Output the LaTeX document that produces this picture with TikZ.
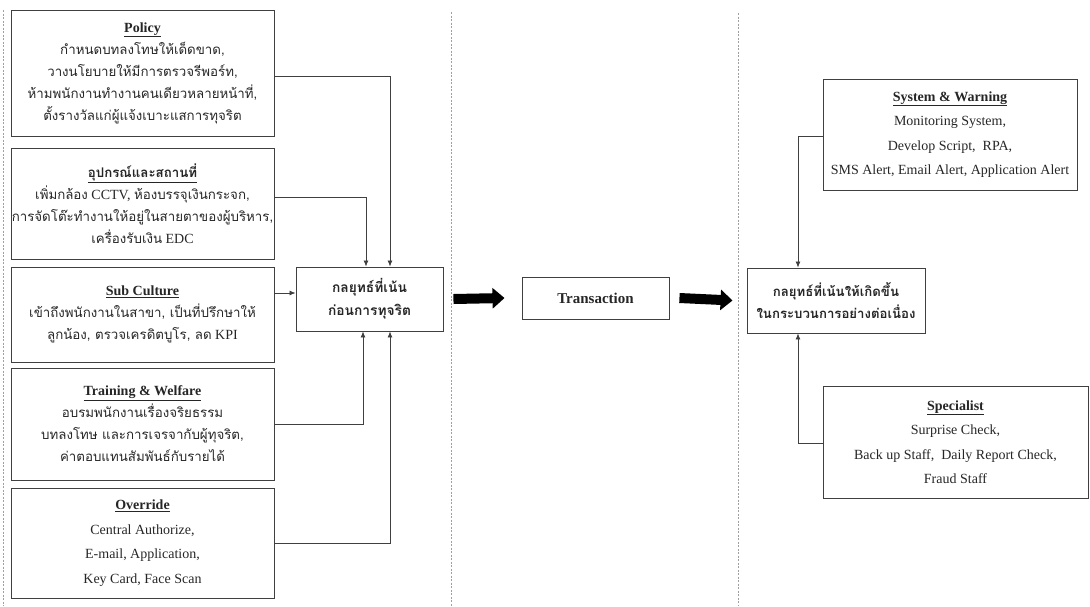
\documentclass[tikz,border=0pt]{standalone}
\usepackage{fontspec}
\setmainfont{Liberation Serif}
\newfontfamily\thai[Script=Thai,Scale=0.95]{Loma}
\usetikzlibrary{arrows.meta,calc}
\definecolor{edge}{HTML}{404040}
\definecolor{sep}{HTML}{A0A0A0}
\newcommand{\tht}[1]{{\thai #1}}
\begin{document}
\begin{tikzpicture}[x=1pt,y=-1pt,
  box/.style={draw=edge,line width=0.9pt,rectangle,align=center,inner sep=0pt,text=black!85},
  thaibox/.style={box,font=\fontsize{14}{22}\selectfont},
  latbox/.style={box,font=\fontsize{14}{24.5}\selectfont},
  midbox/.style={box,font=\fontsize{14.5}{23}\selectfont\bfseries},
  conn/.style={draw=edge,line width=0.8pt,-{Latex[length=6pt,width=5pt]}},
  blockarr/.style={line width=10pt,-{Triangle[length=12pt,width=20pt]}},
  sepline/.style={draw=sep,line width=0.7pt,dash pattern=on 2pt off 1.5pt}]
\useasboundingbox (0,0) rectangle (1090,606);
% separators
\draw[sepline] (3,10) -- (3,606);
\draw[sepline] (451,12) -- (451,606);
\draw[sepline] (738,13) -- (738,606);
% left boxes
\node[thaibox,minimum width=263pt,minimum height=126pt] (policy) at (142.5,73)
 {\textbf{\underline{Policy}}\\
  \tht{กำหนดบทลงโทษให้เด็ดขาด,}\\
  \tht{วางนโยบายให้มีการตรวจรีพอร์ท,}\\
  \tht{ห้ามพนักงานทำงานคนเดียวหลายหน้าที่,}\\
  \tht{ตั้งรางวัลแก่ผู้แจ้งเบาะแสการทุจริต}};
\node[thaibox,minimum width=263pt,minimum height=111pt] (equip) at (142.5,203.5)
 {\tht{\bfseries\underline{อุปกรณ์และสถานที่}}\\
  \tht{เพิ่มกล้อง} CCTV, \tht{ห้องบรรจุเงินกระจก,}\\
  \tht{การจัดโต๊ะทำงานให้อยู่ในสายตาของผู้บริหาร,}\\
  \tht{เครื่องรับเงิน} EDC};
\node[thaibox,minimum width=263pt,minimum height=95pt] (sub) at (142.5,314.5)
 {\textbf{\underline{Sub Culture}}\\
  \tht{เข้าถึงพนักงานในสาขา, เป็นที่ปรึกษาให้}\\
  \tht{ลูกน้อง, ตรวจเครดิตบูโร, ลด} KPI};
\node[thaibox,minimum width=263pt,minimum height=112pt] (train) at (142.5,424)
 {\textbf{\underline{Training \& Welfare}}\\
  \tht{อบรมพนักงานเรื่องจริยธรรม}\\
  \tht{บทลงโทษ และการเจรจากับผู้ทุจริต,}\\
  \tht{ค่าตอบแทนสัมพันธ์กับรายได้}};
\node[latbox,minimum width=263pt,minimum height=110pt] (over) at (142.5,543)
 {\textbf{\underline{Override}}\\
  Central Authorize,\\
  E-mail, Application,\\
  Key Card, Face Scan};
% center
\node[midbox,minimum width=147pt,minimum height=64pt] (pre) at (369.5,299)
 {\tht{กลยุทธ์ที่เน้น}\\ \tht{ก่อนการทุจริต}};
\node[midbox,font=\fontsize{15}{23}\selectfont\bfseries,minimum width=147pt,minimum height=42pt] (tr) at (595.5,298) {Transaction};
\node[midbox,font=\fontsize{13.9}{22}\selectfont\bfseries,minimum width=178pt,minimum height=65pt] (cont) at (836,300.5)
 {\tht{กลยุทธ์ที่เน้นให้เกิดขึ้น}\\ \tht{ในกระบวนการอย่างต่อเนื่อง}};
% right boxes
\node[latbox,minimum width=254pt,minimum height=111pt] (sys) at (950,134.5)
 {\textbf{\underline{System \& Warning}}\\
  Monitoring System,\\
  Develop Script,\ \ RPA,\\
  SMS Alert, Email Alert, Application Alert};
\node[latbox,minimum width=265pt,minimum height=112pt] (spec) at (955.5,442)
 {\textbf{\underline{Specialist}}\\
  Surprise Check,\\
  Back up Staff,\ \ Daily Report Check,\\
  Fraud Staff};
% connectors into pre
\draw[conn] ([yshift=-3pt]policy.east) -| ([xshift=20.5pt]pre.north);
\draw[conn] ([yshift=6.5pt]equip.east) -| ([xshift=-3.5pt]pre.north);
\draw[conn] ([yshift=6pt]pre.west -| sub.east) -- ([yshift=6pt]pre.west);
\draw[conn] (train.east) -| ([xshift=-6.5pt]pre.south);
\draw[conn] (over.east) -| ([xshift=20.5pt]pre.south);
% block arrows
\draw[blockarr] ([xshift=10pt]pre.east) -- ([xshift=-17pt]tr.west);
\draw[blockarr] ([xshift=10pt]tr.east) -- ([xshift=-14pt]cont.west);
% right connectors
\draw[conn] ([yshift=-1.5pt]sys.west) -| ([xshift=-38pt]cont.north);
\draw[conn] ([yshift=-1pt]spec.west) -| ([xshift=-38pt]cont.south);
\end{tikzpicture}
\end{document}
